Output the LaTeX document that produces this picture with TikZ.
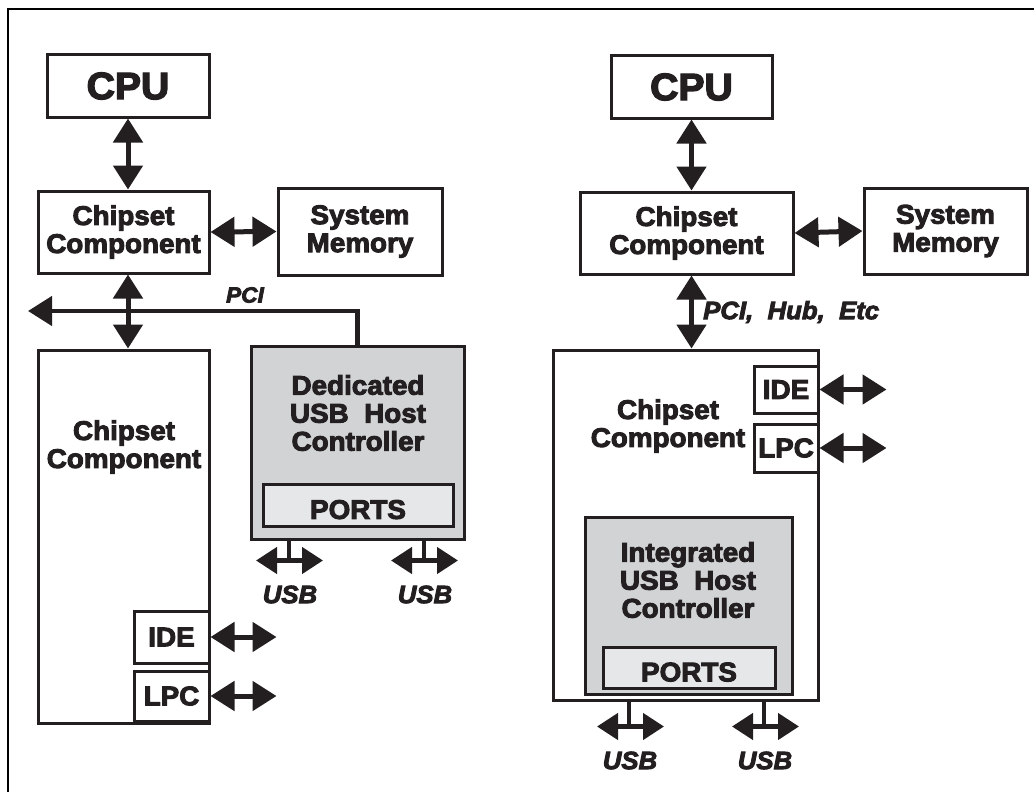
\documentclass[tikz,border=0pt]{standalone}
\usepackage{fontspec}
\setmainfont{Liberation Sans}[BoldFeatures={FakeBold=3.5,FakeStretch=1.03},BoldItalicFeatures={FakeBold=3.5,FakeStretch=1.03}]
\usetikzlibrary{arrows.meta}
\definecolor{ink}{HTML}{231F20}
\definecolor{hostgray}{HTML}{D1D3D4}
\definecolor{portgray}{HTML}{E6E7E8}
\tikzset{
	blk/.style={draw=ink, line width=3pt, fill=white, align=center, inner sep=0pt, text=ink,
		font=\fontsize{27}{28}\selectfont\bfseries},
	txt/.style={align=center, inner sep=0pt, text=ink, font=\fontsize{27}{28}\selectfont\bfseries},
	tag/.style={inner sep=0pt, text=ink, font=\fontsize{25}{25}\selectfont\bfseries\itshape},
	bus/.style={ink, line width=5pt, {Triangle[length=24pt,width=29pt]}-{Triangle[length=24pt,width=29pt]}},
	usb/.style={ink, line width=4.5pt, {Triangle[length=21pt,width=26pt]}-{Triangle[length=21pt,width=26pt]}},
	stub/.style={ink, line width=3.5pt},
}
\begin{document}
\begin{tikzpicture}[x=1pt, y=-1pt]
	\useasboundingbox (0,0) rectangle (1034,792);
	\draw[black, line width=2.5pt] (8,792) -- (8,9) -- (1034,9);

	\node[blk, minimum width=162pt, minimum height=62pt, font=\fontsize{38}{38}\selectfont\bfseries] (cpuL) at (128,86) {CPU};
	\node[blk, minimum width=171pt, minimum height=82pt] (chipL) at (123.5,232) {Chipset\\Component};
	\node[blk, minimum width=164pt, minimum height=87pt] (memL) at (360,231.5) {System\\Memory};
	\node[blk, minimum width=171pt, minimum height=373pt] (southL) at (123.5,536.5) {};
	\node[txt] (southLtxt) at (124,447) {Chipset\\Component};
	\node[blk, minimum width=75pt, minimum height=52pt] (ideL) at (171.5,637) {IDE};
	\node[blk, minimum width=75pt, minimum height=50pt] (lpcL) at (171.5,696) {LPC};
	\node[blk, fill=hostgray, minimum width=213pt, minimum height=193pt] (dedL) at (357.5,442.5) {};
	\node[txt] (dedLtxt) at (358,413) {Dedicated\\USB\ \ Host\\Controller};
	\node[blk, fill=portgray, minimum width=190pt, minimum height=42pt, text height=28pt] (portsL) at (358,505) {PORTS};

	\coordinate (pciEnd) at (28,311);
	\draw[ink, line width=4.5pt, -{Triangle[length=24pt,width=29pt]}] (dedL.north) |- (pciEnd);
	\node[tag, font=\fontsize{22}{22}\selectfont\bfseries\itshape] (pciL) at (245,295) {PCI};

	\draw[bus] (cpuL.south) -- (cpuL.south |- chipL.north);
	\draw[bus] (cpuL.south |- chipL.south) -- (cpuL.south |- southL.north);
	\draw[bus] (chipL.east) -- (memL.west);
	\draw[bus] (ideL.east) -- ++(66,0);
	\draw[bus] (lpcL.east) -- ++(66,0);

	\foreach \px [count=\n] in {289,424} {
		\draw[stub] (dedL.south -| \px,0) -- ++(0,20) coordinate (usbL\n);
		\draw[usb] ([xshift=-33pt]usbL\n) -- ([xshift=34pt]usbL\n);
		\node[tag] (usbLtxt\n) at ([xshift=1pt,yshift=-34pt]usbL\n) {USB};
	}

	\node[blk, minimum width=161pt, minimum height=62pt, font=\fontsize{38}{38}\selectfont\bfseries] (cpuR) at (691.5,87) {CPU};
	\node[blk, minimum width=213pt, minimum height=82pt] (chipR) at (686.5,233) {Chipset\\Component};
	\node[blk, minimum width=163pt, minimum height=86pt] (memR) at (945.5,231) {System\\Memory};
	\node[blk, minimum width=265pt, minimum height=350pt] (southR) at (685.5,525) {};
	\node[txt] (southRtxt) at (668,426) {Chipset\\Component};
	\node[blk, minimum width=64pt, minimum height=47pt] (ideR) at (786,389.5) {IDE};
	\node[blk, minimum width=64pt, minimum height=48pt] (lpcR) at (786,448) {LPC};
	\node[blk, fill=hostgray, minimum width=207pt, minimum height=177pt] (intR) at (688.5,605.5) {};
	\node[txt] (intRtxt) at (688,580) {Integrated\\USB\ \ Host\\Controller};
	\node[blk, fill=portgray, minimum width=172pt, minimum height=41pt, text height=28pt] (portsR) at (689,667.5) {PORTS};

	\draw[bus] (cpuR.south) -- (cpuR.south |- chipR.north);
	\draw[bus] (cpuR.south |- chipR.south) -- (cpuR.south |- southR.north);
	\node[tag, anchor=west] (hubR) at (703,312) {PCI,\ \ Hub,\ \ Etc};
	\draw[bus] (chipR.east) -- (memR.west);
	\draw[bus] (ideR.east) -- ++(67,0);
	\draw[bus] (lpcR.east) -- ++(67,0);

	\foreach \px [count=\n] in {629,764} {
		\draw[stub] (southR.south -| \px,0) -- ++(0,25) coordinate (usbR\n);
		\draw[usb] ([xshift=-32pt]usbR\n) -- ([xshift=35pt]usbR\n);
		\node[tag] (usbRtxt\n) at ([xshift=1pt,yshift=-34pt]usbR\n) {USB};
	}
\end{tikzpicture}
\end{document}
